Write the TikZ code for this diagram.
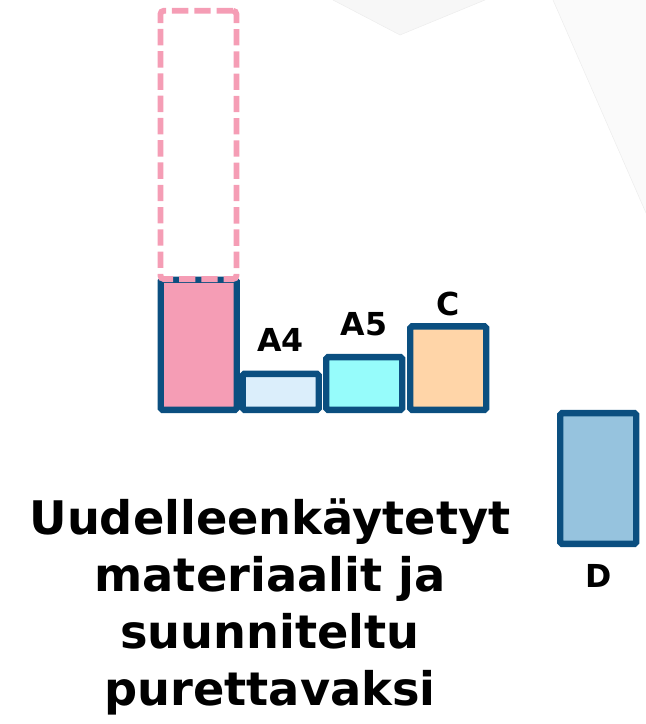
\documentclass[tikz,border=0pt]{standalone}
\usepackage{fontspec}
\setmainfont{DejaVu Sans}
\usetikzlibrary{positioning}
\definecolor{barblue}{HTML}{0B4F80}
\definecolor{rosa}{HTML}{F59DB5}
\definecolor{paleblue}{HTML}{DBEEFB}
\definecolor{aqua}{HTML}{96FCFB}
\definecolor{peach}{HTML}{FFD5A8}
\definecolor{skyblue}{HTML}{96C3DE}

\begin{document}
\begin{tikzpicture}[x=0.03cm, y=-0.03cm, semithick,
    bar/.style={draw=barblue, line width=5.5pt, rounded corners=1.5pt, rectangle, inner sep=0pt, minimum width=2.28cm, anchor=south west},
    lbl/.style={font=\bfseries\fontsize{27}{30}\selectfont}]
        \useasboundingbox (0,0) rectangle (646,724);
        % faint background facets
        \fill[gray!6] (333,0) -- (400,35) -- (485,0) -- cycle;
        \fill[gray!4] (553,0) -- (646,213) -- (646,0) -- cycle;
        \draw[gray!15, thin] (333,0) -- (400,35) -- (485,0);
        \draw[gray!15, thin] (553,0) -- (646,213);

        \node[bar, fill=rosa, minimum height=3.9cm] (pink) at (157.5,413) {};
        \node[draw=rosa, dash pattern=on 14pt off 5pt, line width=5pt, rounded corners=3pt, rectangle, inner sep=0pt, minimum width=2.28cm, minimum height=8.05cm, anchor=south west] (reserve) at (157.5,282) {};
        \node[bar, fill=paleblue, minimum height=1.08cm] (a4) at (239.5,413) {};
        \node[bar, fill=aqua, minimum height=1.58cm] (a5) at (323,413) {};
        \node[bar, fill=peach, minimum height=2.5cm] (c) at (407,413) {};
        \node[bar, fill=skyblue, minimum height=3.92cm] (d) at (557,547) {};

        \node[lbl] (la4) [above=0.45cm of a4] {A4};
        \node[lbl] (la5) [above=0.4cm of a5] {A5};
        \node[lbl] (lc) [above=0.1cm of c] {C};
        \node[lbl] (ld) [below=0.4cm of d] {D};

        \node[font=\bfseries\fontsize{39.5}{48.5}\selectfont, align=center] (title) at (270,607)
          {Uudelleenkäytetyt\\materiaalit ja\\suunniteltu\\purettavaksi};
      \end{tikzpicture}
\end{document}
